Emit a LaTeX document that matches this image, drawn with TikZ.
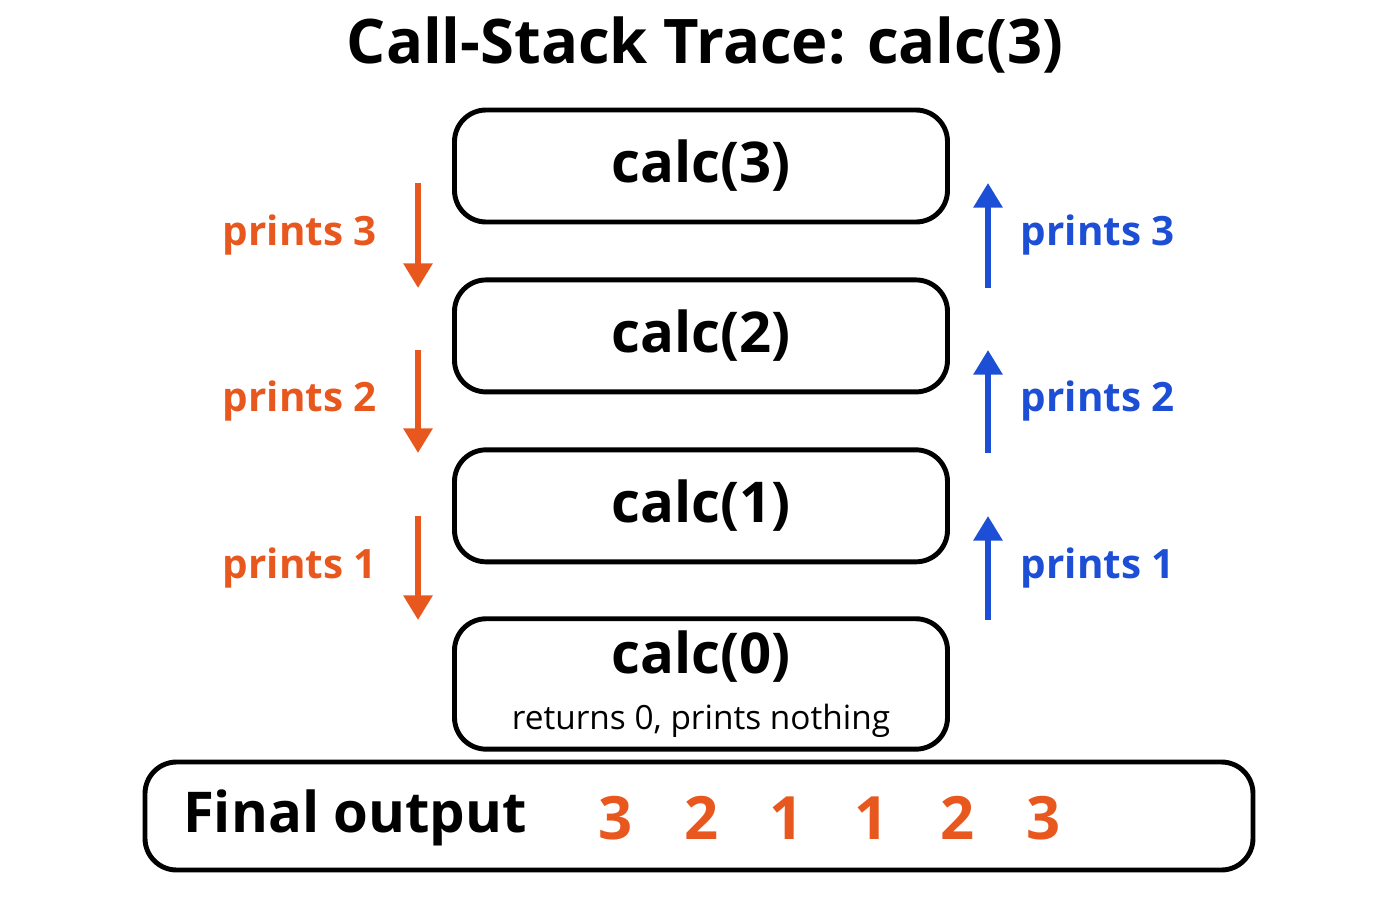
\documentclass[tikz,border=0pt]{standalone}
\usepackage{fontspec}
\setmainfont{Open Sans}
\usetikzlibrary{positioning,arrows.meta}
\definecolor{callorange}{HTML}{E8581E}
\definecolor{retblue}{HTML}{1D4FD6}
\begin{document}
\begin{tikzpicture}[frame/.style={draw,line width=1.4pt,rounded corners=9pt,minimum width=4.93cm,minimum height=1.12cm,font=\fontsize{16}{19}\selectfont\bfseries},
    down/.style={callorange,line width=1.6pt,-{Triangle[length=7pt,width=8pt]}},
    up/.style={retblue,line width=1.6pt,-{Triangle[length=7pt,width=8pt]}},
    lbl/.style={font=\fontsize{11.5}{14}\selectfont\bfseries}]
        \useasboundingbox (0,0) rectangle (14,9);
        \node[font=\fontsize{17.5}{21}\selectfont\bfseries] (title) at (7.05,8.55) {Call-Stack Trace: calc(3)};
        \node[frame] (c3) at (7.01,7.34) {calc(3)};
        \node[frame] (c2) [below=0.53cm of c3] {calc(2)};
        \node[frame] (c1) [below=0.53cm of c2] {calc(1)};
        \node[frame,minimum height=1.22cm,align=center] (c0) [below=0.52cm of c1] {calc(0)\\[-3pt]{\fontsize{9.5}{11}\selectfont\mdseries returns 0, prints nothing}};
        \node[draw,line width=1.4pt,rounded corners=9pt,minimum width=11.08cm,minimum height=1.08cm] (out) at (6.99,0.84) {};
        \node[font=\fontsize{16}{19}\selectfont\bfseries] (outlbl) at (3.55,0.82) {Final output};

        % digits of the output
        \foreach \x/\d [count=\i] in {6.16/3,7.02/2,7.87/1,8.72/1,9.58/2,10.44/3}{
            \node[callorange,font=\fontsize{17}{20}\selectfont\bfseries] (d\i) at (\x,0.82) {\d};
        }

        % calls going down, returns going up
        \foreach \n/\a/\b in {3/7.17/6.12,2/5.50/4.47,1/3.84/2.80}{
            \coordinate (s\n) at (4.18,\a);
            \coordinate (t\n) at (4.18,\b);
            \coordinate (u\n) at (9.88,\b);
            \coordinate (v\n) at (9.88,\a);
            \draw[down] (s\n) -- (t\n);
            \draw[up] (u\n) -- (v\n);
            \node[lbl,callorange] (l\n) at (3.00,\a/2+\b/2) {prints \n};
            \node[lbl,retblue] (r\n) at (10.98,\a/2+\b/2) {prints \n};
        }
    \end{tikzpicture}
\end{document}
